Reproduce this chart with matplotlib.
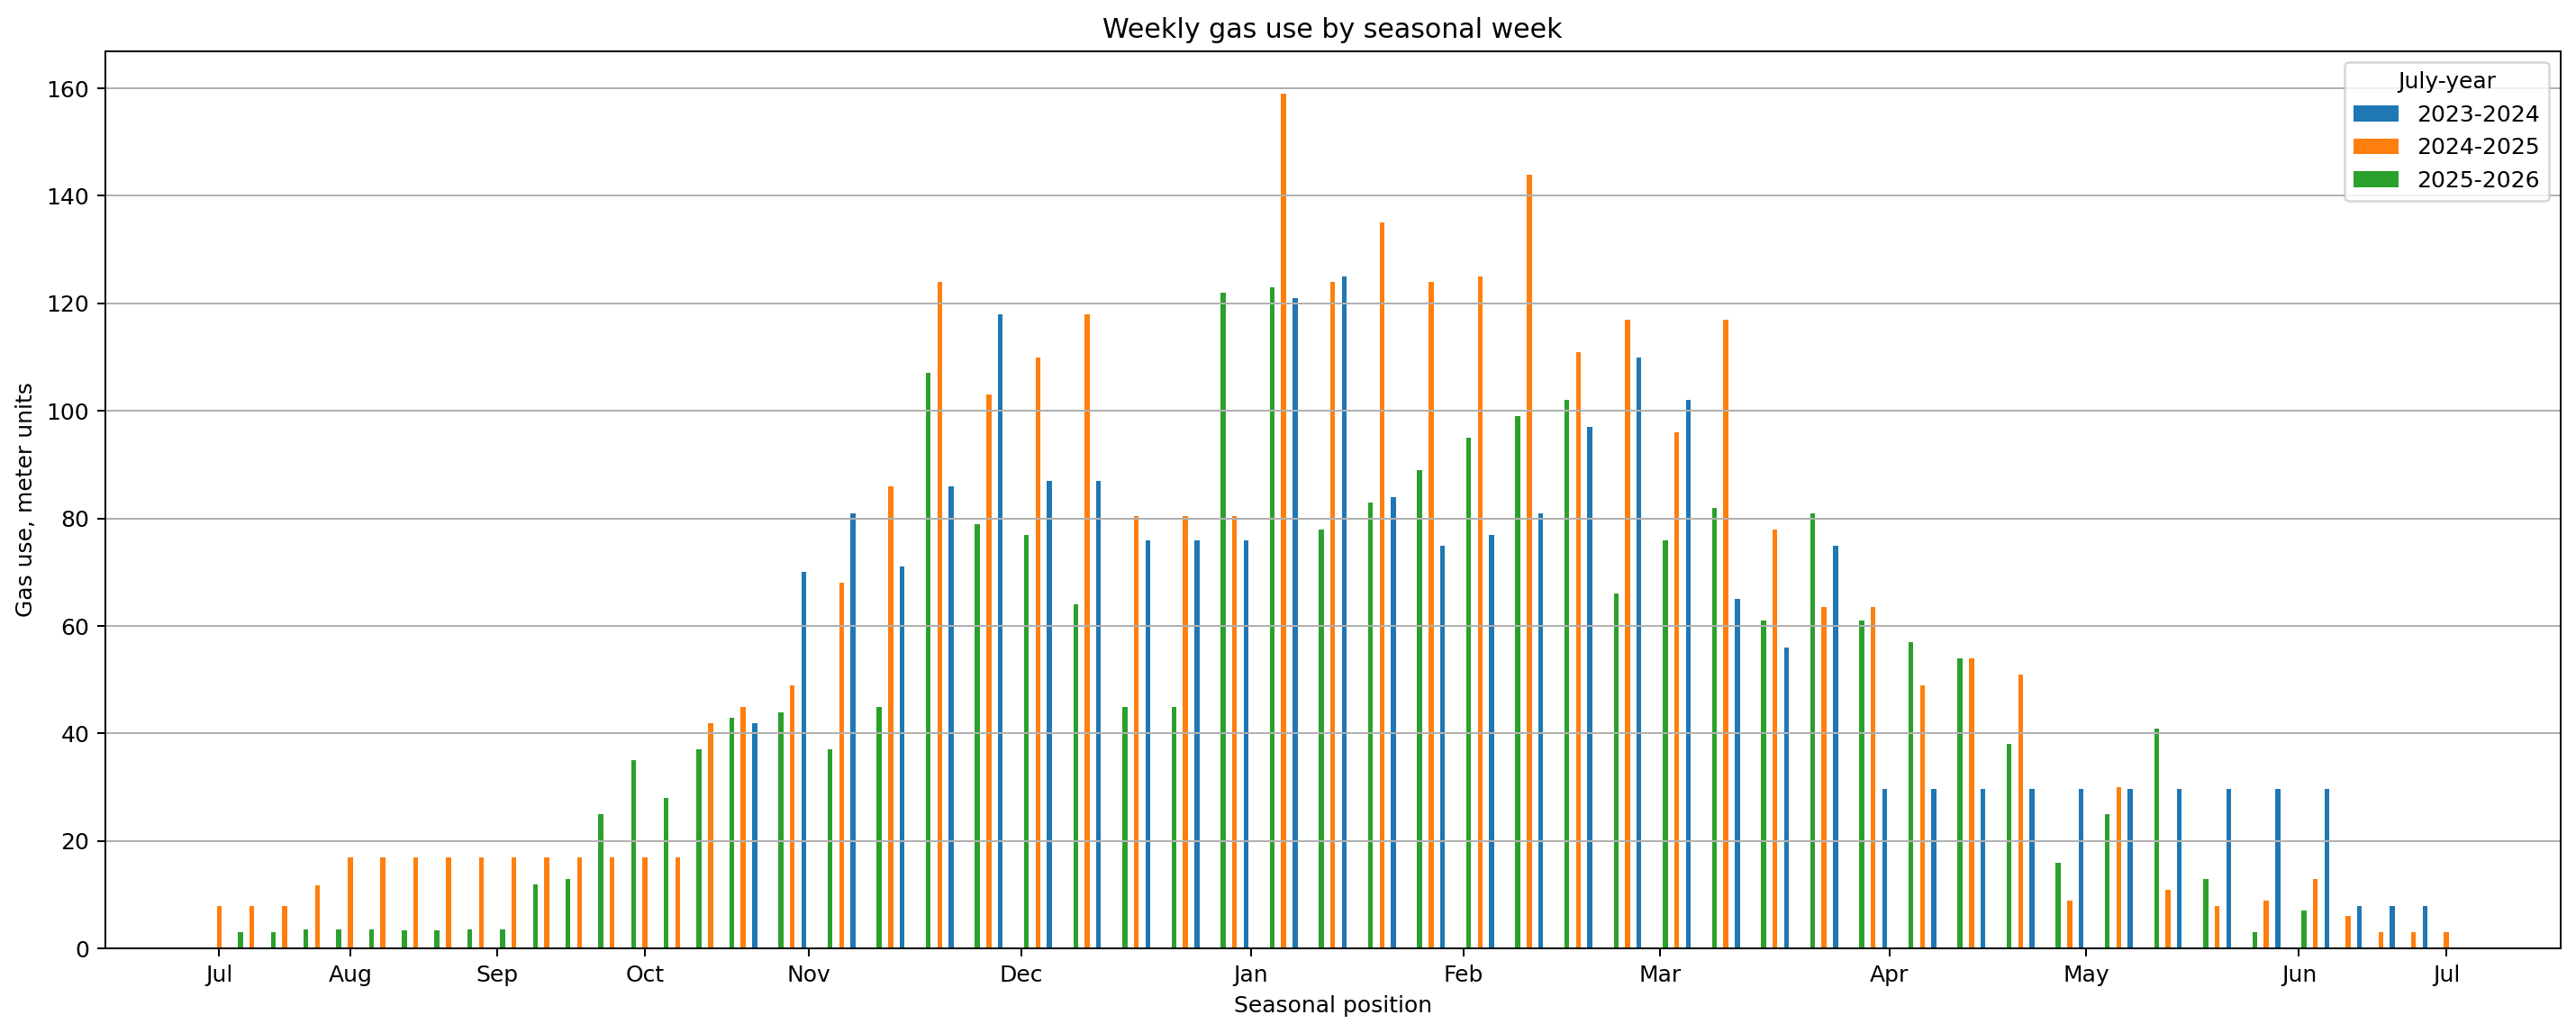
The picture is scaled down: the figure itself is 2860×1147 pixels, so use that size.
import matplotlib
matplotlib.use('Agg')
import numpy as np
import matplotlib.pyplot as plt

# seasonal position index (rank of the reading date within the July-June season)
pos_2324 = [33, 36, 39, 42, 45, 48, 51, 54, 57, 60, 63, 66, 69, 72, 75, 78, 81, 84,
            87, 90, 93, 96, 99, 102, 105, 108, 111, 114, 117, 120, 123, 126, 129,
            131, 133, 135]
use_2324 = [42, 70, 81, 71, 86, 118, 87, 87, 76, 76, 76, 121, 125, 84, 75, 77, 81, 97,
            110, 102, 65, 56, 75, 29.7, 29.7, 29.7, 29.7, 29.7, 29.7, 29.7, 29.7, 29.7, 29.7,
            8, 8, 8]

pos_2425 = [0, 2, 4, 6, 8, 10, 12, 14, 16, 18, 20, 22, 24, 26, 28, 30, 32,
            35, 38, 41, 44, 47, 50, 53, 56, 59, 62, 65, 68, 71, 74, 77, 80, 83, 86,
            89, 92, 95, 98, 101, 104, 107, 110, 113, 116, 119, 122, 125, 128,
            130, 132, 134, 136]
use_2425 = [8, 8, 8, 11.7, 17, 17, 17, 17, 17, 17, 17, 17, 17, 17, 17, 42, 45,
            49, 68, 86, 124, 103, 110, 118, 80.5, 80.5, 80.5, 159, 124, 135, 124, 125, 144, 111, 117,
            96, 117, 78, 63.5, 63.5, 49, 54, 51, 9, 30, 11, 8, 9, 13,
            6, 3, 3, 3]

pos_2526 = [1, 3, 5, 7, 9, 11, 13, 15, 17, 19, 21, 23, 25, 27, 29, 31,
            34, 37, 40, 43, 46, 49, 52, 55, 58, 61, 64, 67, 70, 73, 76, 79, 82, 85,
            88, 91, 94, 97, 100, 103, 106, 109, 112, 115, 118, 121, 124, 127]
use_2526 = [3, 3, 3.5, 3.5, 3.5, 3.4, 3.4, 3.5, 3.5, 12, 13, 25, 35, 28, 37, 43,
            44, 37, 45, 107, 79, 77, 64, 45, 45, 122, 123, 78, 83, 89, 95, 99, 102, 66,
            76, 82, 61, 81, 61, 57, 54, 38, 16, 25, 41, 13, 3, 7]

seasons = ['2023-2024', '2024-2025', '2025-2026']
month_ticks = [0, 8, 17, 26, 36, 49, 63, 76, 88, 102, 114, 127, 136]
month_labels = ['Jul', 'Aug', 'Sep', 'Oct', 'Nov', 'Dec', 'Jan', 'Feb', 'Mar',
                'Apr', 'May', 'Jun', 'Jul']

dpi = 180
fig, ax = plt.subplots(figsize=(2860 / dpi, 1147 / dpi), dpi=dpi)
fig.subplots_adjust(left=0.0408, right=0.99395, bottom=0.0817, top=0.9507)

width = 0.3
series = [(pos_2324, use_2324), (pos_2425, use_2425), (pos_2526, use_2526)]
for k, (pos, use) in enumerate(series):
    ax.bar(np.array(pos) + (k - 1) * width, use, width=width, label=seasons[k])

ax.set_xticks(month_ticks)
ax.set_xticklabels(month_labels)
ax.set_title('Weekly gas use by seasonal week')
ax.set_xlabel('Seasonal position')
ax.set_ylabel('Gas use, meter units')
ax.grid(axis='y')
ax.legend(title='July-year', loc='upper right')

fig.savefig('out.png', dpi=dpi)
